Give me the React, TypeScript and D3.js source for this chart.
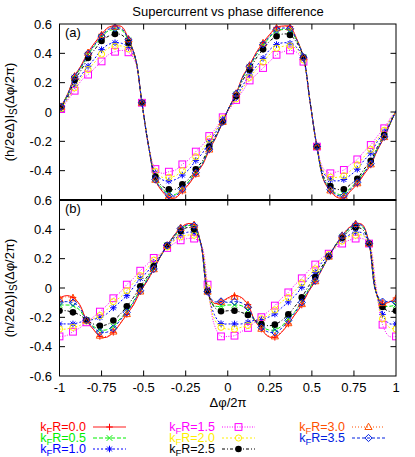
import React from "react";
import * as d3 from "d3";

// ---- series meta ----
const KFR = ["0.0", "0.5", "1.0", "1.5", "2.0", "2.5", "3.0", "3.5"];
const COLORS = ["#ff0000", "#00ee00", "#0000ff", "#ff00ff", "#ffee00", "#000000", "#ff5000", "#0020e0"];
const MARKERS = ["plus", "cross", "star", "square", "circle", "dot", "triangle", "diamond"];
const DASHES = ["", "4,2", "2,2", "1,1.5", "2,2", "3,2,1,2", "1,2", "3,2"];

// ---- panel (a): one period of the curve, sampled at these phases ----
const PHASE_A = [0.01, 0.05, 0.09, 0.13, 0.17, 0.21, 0.25, 0.29, 0.33, 0.37, 0.41, 0.45, 0.49,
  0.53, 0.57, 0.61, 0.65, 0.69, 0.73, 0.77, 0.81, 0.85, 0.89, 0.93, 0.97];
const A_K00 = [0.036, 0.127, 0.245, 0.32, 0.407, 0.473, 0.53, 0.577, 0.586, 0.582, 0.498, 0.373, 0.063,
  -0.236, -0.464, -0.54, -0.582, -0.585, -0.539, -0.491, -0.425, -0.361, -0.259, -0.173, -0.068];
const A_K05 = [0.035, 0.12, 0.235, 0.307, 0.39, 0.454, 0.51, 0.553, 0.562, 0.558, 0.488, 0.372, 0.063,
  -0.236, -0.458, -0.522, -0.558, -0.561, -0.517, -0.471, -0.408, -0.347, -0.249, -0.166, -0.066];
const A_K10 = [0.03, 0.096, 0.182, 0.252, 0.312, 0.366, 0.425, 0.46, 0.472, 0.468, 0.44, 0.36, 0.063,
  -0.236, -0.415, -0.462, -0.47, -0.46, -0.43, -0.39, -0.33, -0.28, -0.2, -0.135, -0.05];
const A_K15 = [0.02, 0.082, 0.145, 0.215, 0.255, 0.3, 0.345, 0.39, 0.411, 0.42, 0.407, 0.343, 0.063,
  -0.236, -0.389, -0.418, -0.407, -0.395, -0.357, -0.323, -0.27, -0.225, -0.164, -0.111, -0.036];
const A_K20 = [0.026, 0.09, 0.165, 0.235, 0.29, 0.34, 0.395, 0.435, 0.448, 0.45, 0.43, 0.355, 0.063,
  -0.236, -0.405, -0.445, -0.445, -0.435, -0.4, -0.36, -0.305, -0.255, -0.185, -0.125, -0.045];
const A_K25 = [0.034, 0.109, 0.218, 0.288, 0.368, 0.427, 0.484, 0.516, 0.532, 0.525, 0.473, 0.373, 0.063,
  -0.236, -0.441, -0.505, -0.527, -0.527, -0.493, -0.455, -0.39, -0.332, -0.236, -0.157, -0.066];
const A_K30 = [0.036, 0.126, 0.243, 0.317, 0.403, 0.468, 0.525, 0.571, 0.58, 0.576, 0.495, 0.373, 0.063,
  -0.236, -0.462, -0.535, -0.576, -0.579, -0.534, -0.486, -0.421, -0.357, -0.256, -0.171, -0.067];
const A_K35 = [0.036, 0.124, 0.239, 0.312, 0.397, 0.461, 0.517, 0.563, 0.572, 0.568, 0.492, 0.373, 0.063,
  -0.236, -0.46, -0.53, -0.568, -0.571, -0.526, -0.479, -0.414, -0.352, -0.253, -0.169, -0.067];
const A_EDGE = [0.008, 0.008, 0.006, 0.0, 0.004, 0.008, 0.008, 0.008];

// ---- panel (b): one period of the curve ----
const PHASE_B = [0.0, 0.04, 0.08, 0.12, 0.16, 0.2, 0.24, 0.28, 0.32, 0.36, 0.4, 0.44, 0.48,
  0.52, 0.56, 0.6, 0.64, 0.68, 0.72, 0.76, 0.8, 0.84, 0.88, 0.92, 0.96];
const B_K00 = [-0.068, -0.052, -0.064, -0.113, -0.22, -0.28, -0.33, -0.336, -0.302, -0.245, -0.18, -0.116, -0.025,
  0.045, 0.127, 0.213, 0.29, 0.357, 0.41, 0.438, 0.432, 0.303, -0.025, -0.105, -0.095];
const B_K05 = [-0.116, -0.116, -0.12, -0.15, -0.22, -0.26, -0.285, -0.285, -0.26, -0.21, -0.16, -0.09, -0.01,
  0.06, 0.135, 0.215, 0.29, 0.35, 0.4, 0.425, 0.418, 0.303, -0.025, -0.12, -0.125];
const B_K10 = [-0.245, -0.245, -0.245, -0.234, -0.22, -0.215, -0.2, -0.177, -0.135, -0.095, -0.052, 0.005, 0.066,
  0.107, 0.175, 0.222, 0.285, 0.33, 0.36, 0.38, 0.375, 0.303, -0.01, -0.18, -0.243];
const B_K15 = [-0.33, -0.325, -0.298, -0.272, -0.234, -0.199, -0.161, -0.12, -0.07, -0.03, 0.023, 0.066, 0.118,
  0.16, 0.205, 0.234, 0.273, 0.303, 0.325, 0.337, 0.337, 0.303, 0.023, -0.25, -0.33];
const B_K20 = [-0.28, -0.28, -0.268, -0.256, -0.225, -0.21, -0.188, -0.15, -0.093, -0.065, -0.018, 0.035, 0.084,
  0.13, 0.19, 0.228, 0.28, 0.32, 0.35, 0.36, 0.36, 0.303, 0.0, -0.21, -0.268];
const B_K25 = [-0.155, -0.155, -0.166, -0.184, -0.218, -0.245, -0.257, -0.25, -0.222, -0.18, -0.125, -0.064, 0.012,
  0.075, 0.148, 0.216, 0.291, 0.343, 0.389, 0.412, 0.4, 0.303, -0.02, -0.13, -0.159];
const B_K30 = [-0.075, -0.06, -0.07, -0.118, -0.22, -0.278, -0.325, -0.33, -0.297, -0.24, -0.178, -0.11, -0.024,
  0.046, 0.128, 0.214, 0.29, 0.357, 0.41, 0.436, 0.43, 0.303, -0.025, -0.103, -0.095];
const B_K35 = [-0.098, -0.093, -0.1, -0.132, -0.22, -0.268, -0.3, -0.302, -0.275, -0.22, -0.166, -0.098, -0.018,
  0.05, 0.13, 0.215, 0.29, 0.355, 0.405, 0.43, 0.425, 0.303, -0.025, -0.093, -0.091];

const A_SERIES = [A_K00, A_K05, A_K10, A_K15, A_K20, A_K25, A_K30, A_K35];
const B_SERIES = [B_K00, B_K05, B_K10, B_K15, B_K20, B_K25, B_K30, B_K35];

// ---- axes ----
const X_TICKS = [-1, -0.75, -0.5, -0.25, 0, 0.25, 0.5, 0.75, 1];
const X_TICK_LABELS = ["-1", "-0.75", "-0.5", "-0.25", "0", "0.25", "0.5", "0.75", "1"];
const Y_TICKS = [-0.6, -0.4, -0.2, 0, 0.2, 0.4, 0.6];
const Y_LABELS_A = ["", "-0.4", "-0.2", "0", "0.2", "0.4", "0.6"];
const Y_LABELS_B = ["-0.6", "-0.4", "-0.2", "0", "0.2", "0.4", "0.6"];

const FONT = "'Liberation Sans', Arial, Helvetica, sans-serif";

const LEFT = 59.5, RIGHT = 396;
const A_TOP = 24, MID = 200, B_BOT = 376;
const TICK = 5.5;

type Pt = { x: number; y: number };

function Marker({ type, cx, cy, color }: { type: string; cx: number; cy: number; color: string }) {
  const s = 3.3;
  const common = { stroke: color, strokeWidth: 1, fill: "none" };
  switch (type) {
    case "plus":
      return <path d={`M${cx - s},${cy}H${cx + s}M${cx},${cy - s}V${cy + s}`} {...common} />;
    case "cross":
      return <path d={`M${cx - 2.8},${cy - 2.8}L${cx + 2.8},${cy + 2.8}M${cx - 2.8},${cy + 2.8}L${cx + 2.8},${cy - 2.8}`} {...common} />;
    case "star":
      return (
        <path
          d={`M${cx - s},${cy}H${cx + s}M${cx},${cy - s}V${cy + s}M${cx - 2.4},${cy - 2.4}L${cx + 2.4},${cy + 2.4}M${cx - 2.4},${cy + 2.4}L${cx + 2.4},${cy - 2.4}`}
          {...common}
        />
      );
    case "square":
      return <rect x={cx - 3.4} y={cy - 3.4} width={6.8} height={6.8} {...common} />;
    case "circle":
      return <circle cx={cx} cy={cy} r={3.1} {...common} />;
    case "dot":
      return <circle cx={cx} cy={cy} r={3.3} fill={color} />;
    case "triangle":
      return <path d={`M${cx},${cy - 3.8}L${cx + 3.6},${cy + 2.5}L${cx - 3.6},${cy + 2.5}Z`} {...common} />;
    case "diamond":
      return <path d={`M${cx},${cy - 3.6}L${cx + 3.6},${cy}L${cx},${cy + 3.6}L${cx - 3.6},${cy}Z`} {...common} />;
  }
  return null;
}

export default function App() {
  const x = d3.scaleLinear().domain([-1, 1]).range([LEFT, RIGHT]);
  const yA = d3.scaleLinear().domain([-0.6, 0.6]).range([MID, A_TOP]);
  const yB = d3.scaleLinear().domain([-0.6, 0.6]).range([B_BOT, MID]);

  const buildA = (vals: number[], edge: number) => {
    const pts: Pt[] = [];
    [-1, 0].forEach((o) => PHASE_A.forEach((p, i) => pts.push({ x: o + p, y: vals[i] })));
    const markers = pts.filter((_, i) => i % 2 === 0);
    const line = [{ x: -1, y: edge }, ...pts, { x: 1, y: edge }];
    return { line, markers };
  };
  const buildB = (vals: number[]) => {
    const pts: Pt[] = [];
    [-1, 0].forEach((o) => PHASE_B.forEach((p, i) => pts.push({ x: o + p, y: vals[i] })));
    pts.push({ x: 1, y: vals[0] });
    const markers = pts.filter((_, i) => i % 2 === 0);
    return { line: pts, markers };
  };

  const renderPanel = (
    series: { line: Pt[]; markers: Pt[] }[],
    y: d3.ScaleLinear<number, number>,
    clipId: string
  ) => {
    const gen = d3
      .line<Pt>()
      .x((d) => x(d.x))
      .y((d) => y(d.y))
      .curve(d3.curveCatmullRom.alpha(0.5));
    return (
      <g clipPath={`url(#${clipId})`}>
        {series.map((s, si) => (
          <g key={si}>
            <path
              d={gen(s.line) || ""}
              fill="none"
              stroke={COLORS[si]}
              strokeWidth={1}
              strokeDasharray={DASHES[si] || undefined}
            />
            {s.markers.map((m, mi) => (
              <Marker key={mi} type={MARKERS[si]} cx={x(m.x)} cy={y(m.y)} color={COLORS[si]} />
            ))}
          </g>
        ))}
      </g>
    );
  };

  const seriesA = A_SERIES.map((v, i) => buildA(v, A_EDGE[i]));
  const seriesB = B_SERIES.map((v) => buildB(v));

  const frameTicks = (y: d3.ScaleLinear<number, number>, top: number, bottom: number) => (
    <g stroke="#000" strokeWidth={1}>
      {X_TICKS.slice(1, -1).map((t) => (
        <g key={"x" + t}>
          <line x1={x(t)} x2={x(t)} y1={top} y2={top + TICK} />
          <line x1={x(t)} x2={x(t)} y1={bottom} y2={bottom - TICK} />
        </g>
      ))}
      {Y_TICKS.slice(1, -1).map((t) => (
        <g key={"y" + t}>
          <line x1={LEFT} x2={LEFT + TICK} y1={y(t)} y2={y(t)} />
          <line x1={RIGHT} x2={RIGHT - TICK} y1={y(t)} y2={y(t)} />
        </g>
      ))}
    </g>
  );

  const legendCols = [86, 215, 345];
  const legendRows = [431, 442, 453];

  return (
    <svg width={415} height={457} style={{ position: "absolute", left: 0, top: 0, background: "#fff" }} fontFamily={FONT}>
      <defs>
        <clipPath id="clipA">
          <rect x={LEFT} y={A_TOP} width={RIGHT - LEFT} height={MID - A_TOP} />
        </clipPath>
        <clipPath id="clipB">
          <rect x={LEFT} y={MID} width={RIGHT - LEFT} height={B_BOT - MID} />
        </clipPath>
      </defs>
      <rect x={0} y={0} width={415} height={457} fill="#fff" />

      <text x={228} y={16} fontSize={13} textAnchor="middle">
        Supercurrent vs phase difference
      </text>

      {frameTicks(yA, A_TOP, MID)}
      {frameTicks(yB, MID, B_BOT)}

      {renderPanel(seriesA, yA, "clipA")}
      {renderPanel(seriesB, yB, "clipB")}

      {/* frames */}
      <rect x={LEFT} y={A_TOP} width={RIGHT - LEFT} height={MID - A_TOP} fill="none" stroke="#000" strokeWidth={1} />
      <rect x={LEFT} y={MID} width={RIGHT - LEFT} height={B_BOT - MID} fill="none" stroke="#000" strokeWidth={1} />
      <line x1={LEFT} x2={RIGHT} y1={MID} y2={MID} stroke="#000" strokeWidth={2} />

      {/* y tick labels */}
      <g fontSize={13} textAnchor="end">
        {Y_TICKS.map((t, i) =>
          Y_LABELS_A[i] ? (
            <text key={"a" + t} x={52} y={yA(t)} dy="0.36em">
              {Y_LABELS_A[i]}
            </text>
          ) : null
        )}
        {Y_TICKS.map((t, i) => (
          <text key={"b" + t} x={52} y={yB(t)} dy="0.36em">
            {Y_LABELS_B[i]}
          </text>
        ))}
      </g>

      {/* x tick labels */}
      <g fontSize={13} textAnchor="middle">
        {X_TICKS.map((t, i) => (
          <text key={t} x={x(t)} y={391.5}>
            {X_TICK_LABELS[i]}
          </text>
        ))}
      </g>

      <text x={228} y={407} fontSize={13} textAnchor="middle">
        Δφ/2π
      </text>

      {/* panel labels */}
      <text x={65} y={37} fontSize={13}>(a)</text>
      <text x={65} y={213} fontSize={13}>(b)</text>

      {/* y axis labels */}
      {[yA(0), yB(0)].map((cy, i) => (
        <text key={i} transform={`translate(14,${cy}) rotate(-90)`} fontSize={13} textAnchor="middle">
          (h/2eΔ)I<tspan dy={3} fontSize={10}>S</tspan>
          <tspan dy={-3}>(Δφ/2π)</tspan>
        </text>
      ))}

      {/* legend */}
      {KFR.map((k, i) => {
        const col = Math.floor(i / 3);
        const row = i % 3;
        const tx = legendCols[col];
        const ty = legendRows[row];
        const lx1 = tx + 7;
        const lx2 = tx + 40;
        const ly = ty - 4;
        return (
          <g key={k}>
            <text x={tx} y={ty} fontSize={12.5} textAnchor="end" fill={COLORS[i]}>
              k<tspan dy={2.5} fontSize={9.5}>F</tspan>
              <tspan dy={-2.5}>R={k}</tspan>
            </text>
            <line
              x1={lx1}
              x2={lx2}
              y1={ly}
              y2={ly}
              stroke={COLORS[i]}
              strokeWidth={i === 0 ? 1.5 : 1}
              strokeOpacity={i === 0 ? 0.6 : 1}
              strokeDasharray={DASHES[i] || undefined}
            />
            <Marker type={MARKERS[i]} cx={(lx1 + lx2) / 2} cy={ly} color={COLORS[i]} />
          </g>
        );
      })}
    </svg>
  );
}
